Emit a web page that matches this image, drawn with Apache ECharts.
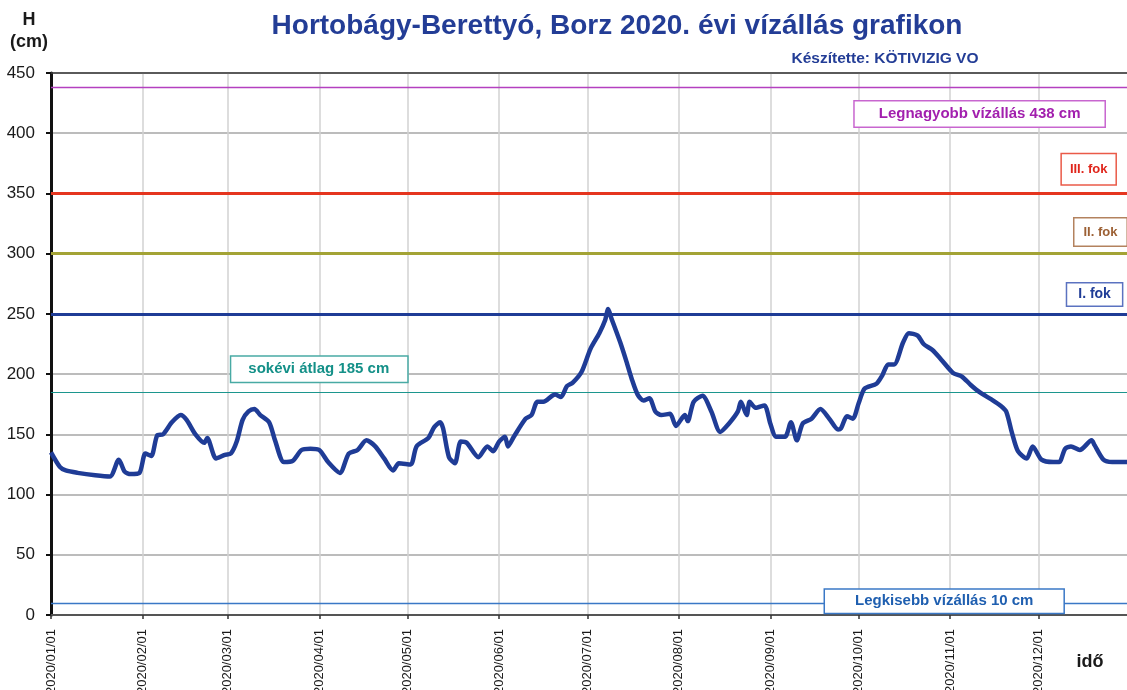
<!DOCTYPE html>
<html>
<head>
<meta charset="utf-8">
<style>
  html, body { margin: 0; padding: 0; background: #fff; }
  #chart { width: 1127px; height: 690px; }
</style>
</head>
<body>
<div id="chart"></div>
<script src="https://cdn.jsdelivr.net/npm/echarts@6/dist/echarts.min.js"></script>
<script>
// daily water level readings (roughly every 2-4 days)
const levelDates = [
  '2020-01-01', '2020-01-04', '2020-01-06', '2020-01-10', '2020-01-16', '2020-01-21', '2020-01-24', '2020-01-26',
  '2020-01-28', '2020-01-31', '2020-02-02', '2020-02-04', '2020-02-06', '2020-02-08', '2020-02-11', '2020-02-14',
  '2020-02-16', '2020-02-19', '2020-02-22', '2020-02-23', '2020-02-26', '2020-02-29', '2020-03-02', '2020-03-04',
  '2020-03-06', '2020-03-08', '2020-03-10', '2020-03-12', '2020-03-15', '2020-03-17', '2020-03-20', '2020-03-23',
  '2020-03-26', '2020-03-29', '2020-04-01', '2020-04-04', '2020-04-08', '2020-04-11', '2020-04-14', '2020-04-17',
  '2020-04-20', '2020-04-23', '2020-04-26', '2020-04-28', '2020-05-02', '2020-05-04', '2020-05-08', '2020-05-10',
  '2020-05-12', '2020-05-13', '2020-05-15', '2020-05-17', '2020-05-19', '2020-05-21', '2020-05-25', '2020-05-28',
  '2020-05-30', '2020-06-01', '2020-06-03', '2020-06-04', '2020-06-06', '2020-06-10', '2020-06-12', '2020-06-14',
  '2020-06-16', '2020-06-19', '2020-06-20', '2020-06-22', '2020-06-24', '2020-06-26', '2020-06-29', '2020-07-02',
  '2020-07-05', '2020-07-07', '2020-07-08', '2020-07-09', '2020-07-12', '2020-07-14', '2020-07-16', '2020-07-18',
  '2020-07-20', '2020-07-22', '2020-07-24', '2020-07-26', '2020-07-29', '2020-07-31', '2020-08-03', '2020-08-04',
  '2020-08-06', '2020-08-09', '2020-08-12', '2020-08-15', '2020-08-18', '2020-08-21', '2020-08-22', '2020-08-24',
  '2020-08-25', '2020-08-27', '2020-08-30', '2020-09-01', '2020-09-03', '2020-09-06', '2020-09-08', '2020-09-10',
  '2020-09-12', '2020-09-15', '2020-09-18', '2020-09-21', '2020-09-24', '2020-09-25', '2020-09-27', '2020-09-29',
  '2020-10-01', '2020-10-03', '2020-10-07', '2020-10-09', '2020-10-11', '2020-10-13', '2020-10-16', '2020-10-18',
  '2020-10-21', '2020-10-23', '2020-10-26', '2020-10-29', '2020-11-02', '2020-11-05', '2020-11-08', '2020-11-11',
  '2020-11-15', '2020-11-18', '2020-11-20', '2020-11-22', '2020-11-24', '2020-11-27', '2020-11-29', '2020-12-02',
  '2020-12-06', '2020-12-08', '2020-12-10', '2020-12-12', '2020-12-15', '2020-12-19', '2020-12-20', '2020-12-23',
  '2020-12-26', '2020-12-31'
]
const levelValues = [
  135, 123, 120, 118, 116, 115, 129, 119,
  117, 118, 134, 132, 149, 150, 160, 166,
  162, 150, 143, 147, 130, 133, 134, 144,
  162, 169, 171, 166, 160, 145, 127, 128,
  137, 138, 137, 127, 118, 134, 137, 145,
  140, 130, 120, 126, 125, 140, 147, 156,
  160, 155, 131, 126, 144, 143, 131, 140,
  136, 144, 148, 140, 148, 163, 166, 177,
  177, 182, 183, 181, 190, 193, 202, 221,
  234, 245, 254, 247, 227, 212, 196, 183,
  178, 180, 169, 166, 167, 157, 166, 161,
  177, 182, 169, 152, 159, 169, 177, 166,
  177, 172, 174, 159, 148, 148, 160, 145,
  159, 163, 171, 163, 154, 155, 165, 163,
  176, 188, 192, 199, 208, 208, 226, 234,
  232, 225, 220, 212, 201, 198, 191, 185,
  179, 174, 169, 151, 136, 130, 140, 129,
  127, 127, 138, 140, 137, 145, 141, 129,
  127, 127
]

const monthTicks = [
  '2020/01/01', '2020/02/01', '2020/03/01', '2020/04/01', '2020/05/01', '2020/06/01',
  '2020/07/01', '2020/08/01', '2020/09/01', '2020/10/01', '2020/11/01', '2020/12/01'
]

// reference levels, cm
const levelMarkValues = [450, 438, 350, 300, 250, 185, 10]
const levelMarkKeys = ['top', 'max', 'third', 'second', 'first', 'mean', 'min']

const annotationTexts = [
  'Legnagyobb vízállás 438 cm', 'III. fok', 'II. fok', 'I. fok', 'sokévi átlag 185 cm', 'Legkisebb vízállás 10 cm'
]

const FONT = '"Liberation Sans", Arial, Helvetica, sans-serif'

const palette = {
  title: '#233d96',
  line: '#1f3c96',
  top: '#3a3a3a',
  max: '#b440c0',
  third: '#e5351f',
  second: '#a3a335',
  first: '#1f3c96',
  mean: '#1c968e',
  min: '#3a78c6',
  gridY: '#a6a6a6',
  gridX: '#d2d2d2',
  axis: '#111',
  text: '#1a1a1a',
}

const levelLineWidth = { top: 1.5, max: 1.4, third: 3, second: 3, first: 3, mean: 1.2, min: 1.4 }

function utc(s) {
  const [y, m, d] = s.split(/[-/]/).map(Number)
  return Date.UTC(y, m - 1, d)
}

function pad(n) {
  return String(n).padStart(2, '0')
}

// annotation boxes are anchored in data space (date, cm)
const annotationStyles = [
  { at: ['2020-11-11', 416], color: '#a21fae', border: '#c866cf', size: 15, padding: [5, 24, 5, 24] },
  { at: ['2020-12-18', 370], color: '#e0261c', border: '#ea5a48', size: 13, padding: [9, 8, 8, 8] },
  { at: ['2020-12-22', 318], color: '#9c6034', border: '#b3825e', size: 13, padding: [7, 9, 7, 9] },
  { at: ['2020-12-20', 266], color: '#1f3c96', border: '#5b72c0', size: 14, padding: [4, 11, 4, 11] },
  { at: ['2020-04-01', 204], color: '#149088', border: '#48aaa4', size: 15, padding: [5, 18, 5, 17] },
  { at: ['2020-10-30', 11.5], color: '#1f5fb0', border: '#3a78c6', size: 15, padding: [4, 30, 4, 30] },
]

const chart = echarts.init(document.getElementById('chart'), null, { renderer: 'canvas' })

const monthValues = monthTicks.map(utc)

chart.setOption({
  backgroundColor: '#fff',
  animation: false,
  grid: { left: 51, right: 0, top: 73, bottom: 75, containLabel: false, outerBoundsMode: 'none' },
  graphic: [
    {
      type: 'text', x: 617, y: 26,
      style: {
        text: 'Hortobágy-Berettyó, Borz 2020. évi vízállás grafikon',
        fill: palette.title, font: `bold 28px ${FONT}`, align: 'center', verticalAlign: 'middle',
      },
    },
    {
      type: 'text', x: 885, y: 59,
      style: {
        text: 'Készítette: KÖTIVIZIG VO',
        fill: palette.title, font: `bold 15.5px ${FONT}`, align: 'center', verticalAlign: 'middle',
      },
    },
    {
      type: 'text', x: 29, y: 31,
      style: {
        text: 'H\n(cm)', fill: palette.text, font: `bold 18px ${FONT}`, lineHeight: 22,
        align: 'center', verticalAlign: 'middle',
      },
    },
    {
      type: 'text', x: 1090, y: 662,
      style: { text: 'idő', fill: palette.text, font: `bold 18px ${FONT}`, align: 'center', verticalAlign: 'middle' },
    },
  ],
  xAxis: {
    // timestamps on a plain value axis so the month ticks can be placed exactly
    type: 'value',
    min: utc('2020-01-01'),
    max: utc('2020-12-31'),
    axisLine: { show: true, onZero: false, lineStyle: { color: '#555', width: 2 } },
    axisTick: { show: true, customValues: monthValues, length: 4, lineStyle: { color: '#333', width: 1.5 } },
    axisLabel: {
      customValues: monthValues,
      rotate: 90,
      margin: 14,
      color: palette.text,
      fontSize: 13,
      fontFamily: FONT,
      formatter: (v) => {
        const d = new Date(v)
        return `${d.getUTCFullYear()}/${pad(d.getUTCMonth() + 1)}/${pad(d.getUTCDate())}`
      },
    },
    splitLine: { show: true, lineStyle: { color: palette.gridX, width: 1.5 } },
  },
  yAxis: {
    type: 'value',
    min: 0,
    max: 450,
    interval: 50,
    axisLine: { show: true, lineStyle: { color: palette.axis, width: 3 } },
    axisTick: { show: true, length: 5, lineStyle: { color: palette.axis, width: 2 } },
    axisLabel: { color: palette.text, fontSize: 17, fontFamily: FONT, margin: 16 },
    splitLine: { show: true, lineStyle: { color: palette.gridY, width: 1.5 } },
  },
  series: [
    {
      name: 'Vízállás',
      type: 'line',
      data: levelDates.map((d, i) => [utc(d), levelValues[i]]),
      showSymbol: false,
      smooth: 0.25,
      lineStyle: { color: palette.line, width: 4.5 },
      z: 5,
      markLine: {
        silent: true,
        symbol: ['none', 'none'],
        label: { show: false },
        z: 3,
        data: levelMarkValues.map((v, i) => ({
          yAxis: v,
          lineStyle: { color: palette[levelMarkKeys[i]], width: levelLineWidth[levelMarkKeys[i]], type: 'solid' },
        })),
      },
      markPoint: {
        silent: true,
        symbol: 'rect',
        symbolSize: 1,
        itemStyle: { color: 'rgba(0,0,0,0)' },
        z: 6,
        data: annotationTexts.map((text, i) => {
          const a = annotationStyles[i]
          return {
            coord: [utc(a.at[0]), a.at[1]],
            label: {
              show: true,
              position: 'inside',
              formatter: text,
              color: a.color,
              fontWeight: 'bold',
              fontSize: a.size,
              fontFamily: FONT,
              backgroundColor: '#fff',
              borderColor: a.border,
              borderWidth: 1.5,
              padding: a.padding,
            },
          }
        }),
      },
    },
  ],
})
</script>
</body>
</html>
